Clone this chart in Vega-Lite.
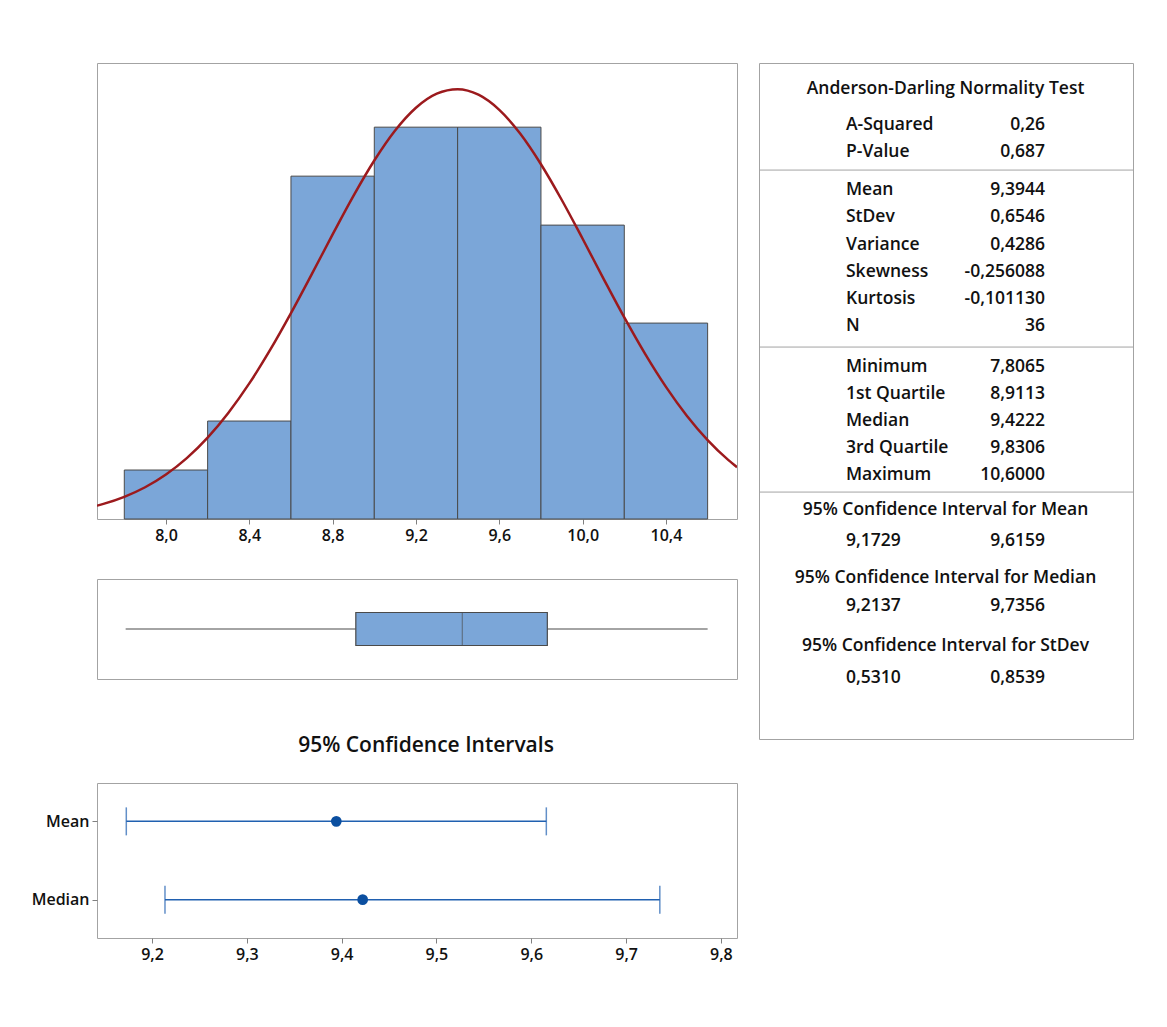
{
  "$schema": "https://vega.github.io/schema/vega-lite/v6.json",
  "background": "white",
  "padding": {"left": 30, "top": 62, "right": 10, "bottom": 10},
  "config": {
    "font": "Open Sans",
    "view": {"stroke": "#a3a3a3", "strokeWidth": 1},
    "axis": {"labelFont": "Open Sans", "labelFontSize": 16, "labelFontWeight": 600, "labelColor": "#111111", "tickColor": "#808080", "tickSize": 5, "domain": false, "grid": false, "title": null, "labelPadding": 3},
    "text": {"font": "Open Sans", "fontSize": 17.5, "fontWeight": 600, "color": "#111111", "baseline": "middle"}
  },
  "datasets": {
    "bins": [
      {"lo": 7.8, "hi": 8.2, "count": 1},
      {"lo": 8.2, "hi": 8.6, "count": 2},
      {"lo": 8.6, "hi": 9.0, "count": 7},
      {"lo": 9.0, "hi": 9.4, "count": 8},
      {"lo": 9.4, "hi": 9.8, "count": 8},
      {"lo": 9.8, "hi": 10.2, "count": 6},
      {"lo": 10.2, "hi": 10.6, "count": 4}
    ],
    "curve": [
      {"x": 7.669, "y": 0.272}, {"x": 7.7, "y": 0.308}, {"x": 7.8, "y": 0.452}, {"x": 7.9, "y": 0.648},
      {"x": 8.0, "y": 0.908}, {"x": 8.1, "y": 1.242}, {"x": 8.2, "y": 1.661}, {"x": 8.3, "y": 2.170},
      {"x": 8.4, "y": 2.768}, {"x": 8.5, "y": 3.451}, {"x": 8.6, "y": 4.203}, {"x": 8.7, "y": 5.000},
      {"x": 8.8, "y": 5.811}, {"x": 8.9, "y": 6.598}, {"x": 9.0, "y": 7.319}, {"x": 9.1, "y": 7.932},
      {"x": 9.2, "y": 8.397}, {"x": 9.3, "y": 8.685}, {"x": 9.4, "y": 8.776}, {"x": 9.5, "y": 8.663},
      {"x": 9.6, "y": 8.354}, {"x": 9.7, "y": 7.870}, {"x": 9.8, "y": 7.243}, {"x": 9.9, "y": 6.513},
      {"x": 10.0, "y": 5.721}, {"x": 10.1, "y": 4.909}, {"x": 10.2, "y": 4.115}, {"x": 10.3, "y": 3.371},
      {"x": 10.4, "y": 2.697}, {"x": 10.5, "y": 2.108}, {"x": 10.6, "y": 1.610}, {"x": 10.7, "y": 1.201},
      {"x": 10.741, "y": 1.058}
    ],
    "box": [{"g": "box", "min": 7.8065, "q1": 8.9113, "median": 9.4222, "q3": 9.8306, "max": 10.6}],
    "ci": [
      {"stat": "Mean", "lo": 9.1729, "est": 9.3944, "hi": 9.6159},
      {"stat": "Median", "lo": 9.2137, "est": 9.4222, "hi": 9.7356}
    ],
    "rows": [
      {"line": 2.3, "label": "A-Squared", "value": "0,26"},
      {"line": 3.3, "label": "P-Value", "value": "0,687"},
      {"line": 4.7, "label": "Mean", "value": "9,3944"},
      {"line": 5.7, "label": "StDev", "value": "0,6546"},
      {"line": 6.7, "label": "Variance", "value": "0,4286"},
      {"line": 7.7, "label": "Skewness", "value": "-0,256088"},
      {"line": 8.7, "label": "Kurtosis", "value": "-0,101130"},
      {"line": 9.7, "label": "N", "value": "36"},
      {"line": 11.2, "label": "Minimum", "value": "7,8065"},
      {"line": 12.2, "label": "1st Quartile", "value": "8,9113"},
      {"line": 13.2, "label": "Median", "value": "9,4222"},
      {"line": 14.2, "label": "3rd Quartile", "value": "9,8306"},
      {"line": 15.2, "label": "Maximum", "value": "10,6000"},
      {"line": 17.65, "label": "9,1729", "value": "9,6159"},
      {"line": 20.05, "label": "9,2137", "value": "9,7356"},
      {"line": 22.7, "label": "0,5310", "value": "0,8539"}
    ],
    "headings": [
      {"line": 0.96, "text": "Anderson-Darling Normality Test"},
      {"line": 16.5, "text": "95% Confidence Interval for Mean"},
      {"line": 19.0, "text": "95% Confidence Interval for Median"},
      {"line": 21.5, "text": "95% Confidence Interval for StDev"}
    ],
    "seps": [{"line": 3.95}, {"line": 10.48}, {"line": 15.83}],
    "blank": [{"a": 1}]
  },
  "spacing": 20,
  "hconcat": [
    {
      "bounds": "flush",
      "spacing": 20,
      "vconcat": [
        {
          "width": 640,
          "height": 456,
          "layer": [
            {
              "data": {"name": "bins"},
              "mark": {"type": "rect", "fill": "#7BA6D8", "stroke": "#4a4a4a", "strokeWidth": 1},
              "encoding": {
                "x": {"field": "lo", "type": "quantitative", "scale": {"domain": [7.669, 10.741], "nice": false, "zero": false},
                  "axis": {"values": [8.0, 8.4, 8.8, 9.2, 9.6, 10.0, 10.4], "labelExpr": "replace(format(datum.value, '.1f'), '.', ',')"}},
                "x2": {"field": "hi"},
                "y": {"field": "count", "type": "quantitative", "scale": {"domain": [0, 9.31], "nice": false}, "axis": null},
                "y2": {"datum": 0}
              }
            },
            {
              "data": {"name": "curve"},
              "mark": {"type": "line", "color": "#9C1A1D", "strokeWidth": 2.5, "interpolate": "monotone", "clip": true},
              "encoding": {
                "x": {"field": "x", "type": "quantitative"},
                "y": {"field": "y", "type": "quantitative"}
              }
            }
          ]
        },
        {
          "width": 640,
          "height": 20,
          "view": {"stroke": null},
          "data": {"name": "blank"},
          "mark": {"type": "text"},
          "encoding": {"text": {"value": ""}}
        },
        {
          "width": 640,
          "height": 100,
          "data": {"name": "box"},
          "encoding": {
            "y": {"field": "g", "type": "nominal", "scale": {"paddingInner": 0, "paddingOuter": 0}, "axis": null}
          },
          "layer": [
            {"mark": {"type": "rule", "color": "#4a4a4a", "strokeWidth": 1.2},
             "encoding": {"x": {"field": "min", "type": "quantitative", "scale": {"domain": [7.669, 10.741], "nice": false, "zero": false}, "axis": null}, "x2": {"field": "q1"}}},
            {"mark": {"type": "rule", "color": "#4a4a4a", "strokeWidth": 1.2},
             "encoding": {"x": {"field": "q3", "type": "quantitative"}, "x2": {"field": "max"}}},
            {"mark": {"type": "bar", "size": 33, "fill": "#7BA6D8", "stroke": "#4a4a4a", "strokeWidth": 1.2},
             "encoding": {"x": {"field": "q1", "type": "quantitative"}, "x2": {"field": "q3"}}},
            {"mark": {"type": "tick", "size": 33, "thickness": 1, "color": "#4a4a4a"},
             "encoding": {"x": {"field": "median", "type": "quantitative"}}}
          ]
        },
        {
          "width": 640,
          "height": 64,
          "view": {"stroke": null},
          "data": {"name": "blank"},
          "mark": {"type": "text"},
          "encoding": {"text": {"value": ""}}
        },
        {
          "width": 640,
          "height": 155,
          "title": {"text": "95% Confidence Intervals", "fontSize": 21, "fontWeight": 600, "color": "#111111", "frame": "group", "anchor": "middle", "dx": 9, "offset": 27},
          "data": {"name": "ci"},
          "encoding": {
            "y": {"field": "stat", "type": "nominal", "scale": {"type": "point", "padding": 0.49}, "sort": ["Mean", "Median"], "axis": {"labelPadding": 3}}
          },
          "layer": [
            {"mark": {"type": "rule", "color": "#2060B0", "strokeWidth": 1.5},
             "encoding": {"x": {"field": "lo", "type": "quantitative", "scale": {"domain": [9.142, 9.817], "nice": false, "zero": false},
               "axis": {"values": [9.2, 9.3, 9.4, 9.5, 9.6, 9.7, 9.8], "labelExpr": "replace(format(datum.value, '.1f'), '.', ',')"}},
               "x2": {"field": "hi"}}},
            {"mark": {"type": "tick", "size": 28, "thickness": 1.5, "color": "#2060B0"},
             "encoding": {"x": {"field": "lo", "type": "quantitative"}}},
            {"mark": {"type": "tick", "size": 28, "thickness": 1.5, "color": "#2060B0"},
             "encoding": {"x": {"field": "hi", "type": "quantitative"}}},
            {"mark": {"type": "point", "filled": true, "opacity": 1, "size": 115, "color": "#0B4FA0"},
             "encoding": {"x": {"field": "est", "type": "quantitative"}}}
          ]
        }
      ]
    },
    {
      "width": 374,
      "height": 676,
      "layer": [
        {
          "data": {"name": "seps"},
          "mark": {"type": "rule", "color": "#a3a3a3", "strokeWidth": 1},
          "encoding": {"y": {"field": "line", "type": "quantitative", "scale": {"domain": [0, 24.94], "reverse": true, "nice": false, "zero": false}, "axis": null}}
        },
        {
          "data": {"name": "headings"},
          "mark": {"type": "text", "align": "center"},
          "encoding": {
            "x": {"datum": 0.4987, "type": "quantitative", "scale": {"domain": [0, 1], "nice": false, "zero": false}, "axis": null},
            "y": {"field": "line", "type": "quantitative"},
            "text": {"field": "text"}
          }
        },
        {
          "data": {"name": "rows"},
          "mark": {"type": "text", "align": "left"},
          "encoding": {
            "x": {"datum": 0.2326, "type": "quantitative"},
            "y": {"field": "line", "type": "quantitative"},
            "text": {"field": "label"}
          }
        },
        {
          "data": {"name": "rows"},
          "mark": {"type": "text", "align": "right"},
          "encoding": {
            "x": {"datum": 0.7647, "type": "quantitative"},
            "y": {"field": "line", "type": "quantitative"},
            "text": {"field": "value"}
          }
        }
      ]
    }
  ]
}
